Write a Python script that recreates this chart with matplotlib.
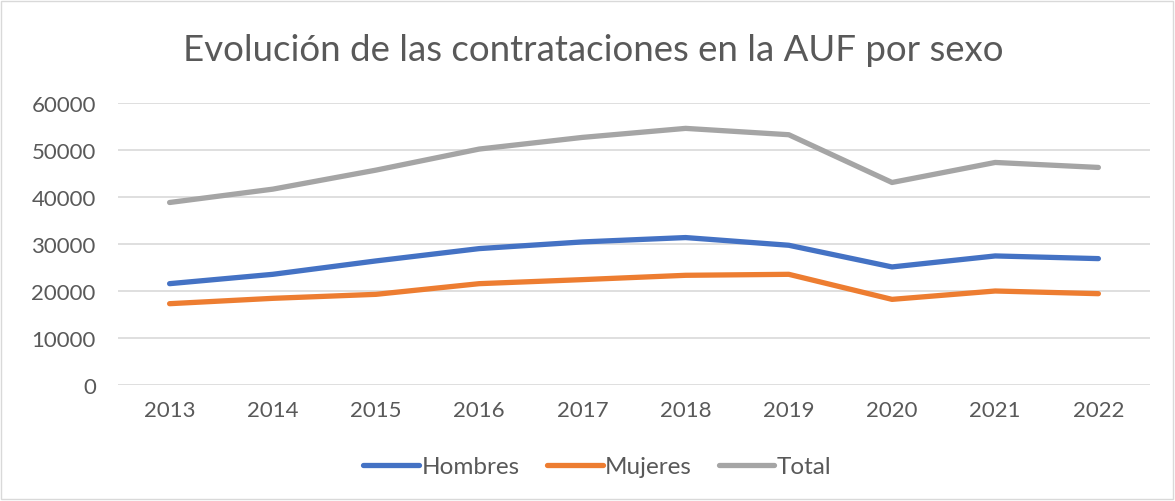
import matplotlib
matplotlib.use('Agg')
import matplotlib.pyplot as plt
from matplotlib.patches import Rectangle

# datos
anios = ['2013', '2014', '2015', '2016', '2017', '2018', '2019', '2020', '2021', '2022']
hombres = [21560, 23550, 26400, 29020, 30440, 31370, 29730, 25120, 27460, 26890]
mujeres = [17300, 18440, 19290, 21560, 22420, 23340, 23550, 18220, 20000, 19430]
total = [38830, 41670, 45720, 50200, 52680, 54600, 53250, 43090, 47350, 46290]

plt.rcParams['font.family'] = ['Lato', 'DejaVu Sans']
txt = '#595959'

fig = plt.figure(figsize=(11.75, 5.02), dpi=100)
ax = fig.add_axes([118/1175, 116/502, 1032/1175, 282/502])

x = range(len(anios))
ax.plot(x, hombres, color='#4472C4', lw=3.8, solid_capstyle='round', solid_joinstyle='round', label='Hombres')
ax.plot(x, mujeres, color='#ED7D31', lw=3.8, solid_capstyle='round', solid_joinstyle='round', label='Mujeres')
ax.plot(x, total, color='#A5A5A5', lw=3.8, solid_capstyle='round', solid_joinstyle='round', label='Total')

ax.set_xlim(-0.5, len(anios) - 0.5)
ax.set_ylim(0, 60000)
ax.set_yticks(range(0, 60001, 10000))
ax.set_xticks(list(x))
ax.set_xticklabels(anios)
ax.grid(axis='y', color='#D9D9D9', lw=1.2)
ax.set_axisbelow(True)
for s in ax.spines.values():
    s.set_visible(False)
ax.tick_params(length=0, labelsize=16, colors=txt)
ax.tick_params(axis='y', pad=16)
ax.tick_params(axis='x', pad=11)

fig.text(0.505, 0.9, 'Evolución de las contrataciones en la AUF por sexo',
         ha='center', va='center', fontsize=26.4, color=txt)

fig.legend(loc='center', bbox_to_anchor=(0.5085, 0.068), ncol=3, frameon=False,
           fontsize=17.5, labelcolor=txt, handlelength=2.3, handletextpad=0.1,
           columnspacing=1.1)

fig.patches.append(Rectangle((0.001, 0.003), 0.997, 0.994, transform=fig.transFigure,
                             fill=False, edgecolor='#D9D9D9', lw=1))

fig.savefig('out.png', dpi=100, facecolor='white')
